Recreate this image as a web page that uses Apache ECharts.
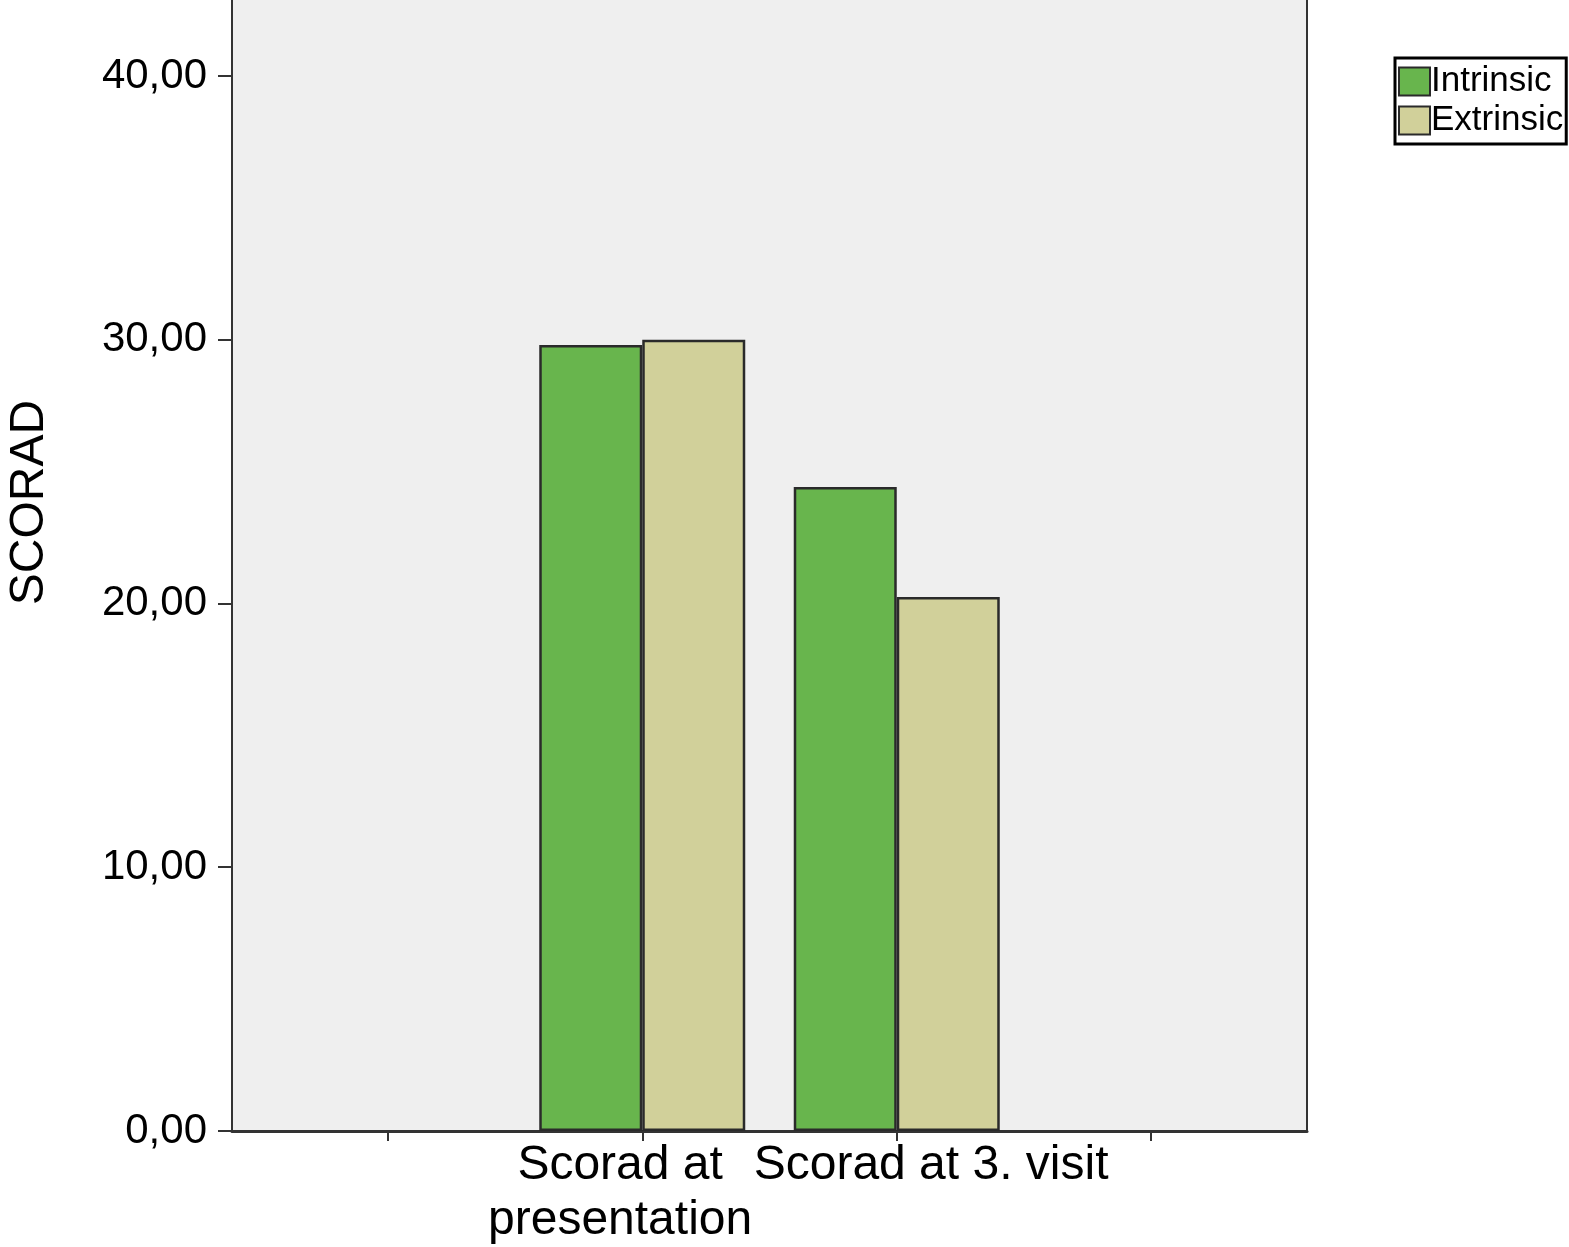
<!DOCTYPE html>
<html>
<head>
<meta charset="utf-8">
<script src="https://cdn.jsdelivr.net/npm/echarts@6/dist/echarts.min.js"></script>
<style>html,body{margin:0;padding:0;background:#fff}#c{width:1569px;height:1247px}</style>
</head>
<body>
<div id="c"></div>
<script>
// Category slots along the x axis (outer two are empty positions)
const categories = ['', 'Scorad at\npresentation', 'Scorad at 3. visit', ''];
const labeledSlots = [1, 2];
const seriesNames = ['Intrinsic', 'Extrinsic'];
const intrinsic = [29.80, 24.42];
const extrinsic = [30.00, 20.25];
const yTicks = [0, 10, 20, 30, 40];

const FONT = 'Liberation Sans, Arial, Helvetica, sans-serif';
const toPairs = vals => labeledSlots.map((slot, i) => [slot, vals[i]]);
// label anchors are nudged off the tick like in the original SPSS output
const labelNudge = [-0.087, 0.135];
const labelAnchors = labeledSlots.map((s, i) => s + labelNudge[i]);

const chart = echarts.init(document.getElementById('c'), null, {renderer: 'canvas'});
chart.setOption({
  backgroundColor: '#ffffff',
  animation: false,
  grid: {
    left: 232, right: 262, top: 0, bottom: 116,
    outerBoundsMode: 'none',
    containLabel: false,
    show: true, backgroundColor: '#efefef', borderWidth: 0
  },
  legend: {
    orient: 'vertical',
    left: 1395, top: 58,
    padding: [4, 3, 4, 3],
    itemGap: 0,
    itemWidth: 31, itemHeight: 28,
    borderColor: '#000', borderWidth: 3,
    backgroundColor: '#fff',
    textStyle: {fontFamily: FONT, fontSize: 35, color: '#000', lineHeight: 39, padding: [0, 0, 0, -4]},
    data: seriesNames.map(n => ({name: n, icon: 'rect'}))
  },
  xAxis: {
    type: 'value',
    min: -0.612, max: 3.612,
    splitLine: {show: false},
    axisLine: {show: true, onZero: false, lineStyle: {color: '#333', width: 3}},
    axisTick: {show: true, length: 10, customValues: [0, 1, 2, 3], lineStyle: {color: '#333', width: 2}},
    axisLabel: {
      customValues: labelAnchors,
      hideOverlap: false,
      showMinLabel: true,
      showMaxLabel: true,
      margin: 7,
      fontFamily: FONT, fontSize: 48, color: '#000', lineHeight: 55,
      formatter: v => categories[Math.round(v)] || ''
    }
  },
  yAxis: [{
    type: 'value',
    min: 0, max: 42.88,
    name: 'SCORAD',
    nameLocation: 'middle',
    nameRotate: 90,
    nameGap: 178,
    nameTextStyle: {fontFamily: FONT, fontSize: 48, color: '#000', padding: [0, 0, 0, 126]},
    splitLine: {show: false},
    axisLine: {show: true, onZero: false, lineStyle: {color: '#333', width: 2}},
    axisTick: {show: true, length: 14, customValues: yTicks, lineStyle: {color: '#333', width: 2}},
    axisLabel: {
      customValues: yTicks,
      margin: 25,
      fontFamily: FONT, fontSize: 42, color: '#000',
      formatter: v => v.toFixed(2).replace('.', ',')
    }
  }, {
    type: 'value',
    position: 'right',
    min: 0, max: 42.88,
    splitLine: {show: false},
    axisLine: {show: true, onZero: false, lineStyle: {color: '#333', width: 2}},
    axisTick: {show: false},
    axisLabel: {show: false}
  }],
  series: [{
    name: seriesNames[0],
    type: 'bar',
    barWidth: 103,
    barGap: '0%',
    itemStyle: {color: '#68b54d', borderColor: '#2a2a2a', borderWidth: 2.5},
    data: toPairs(intrinsic)
  }, {
    name: seriesNames[1],
    type: 'bar',
    barWidth: 103,
    barGap: '0%',
    itemStyle: {color: '#d1d09a', borderColor: '#2a2a2a', borderWidth: 2.5},
    data: toPairs(extrinsic)
  }]
});
</script>
</body>
</html>
